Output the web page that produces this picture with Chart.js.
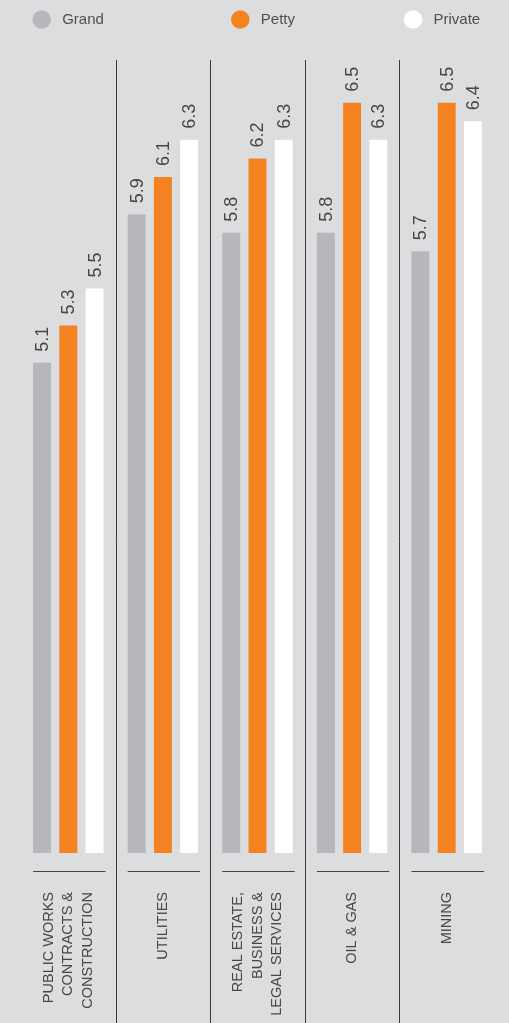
<!DOCTYPE html>
<html>
<head>
<meta charset="utf-8">
<script src="https://cdn.jsdelivr.net/npm/chart.js@4"></script>
<style>
  html, body { margin: 0; padding: 0; background: #dcdddf; }
  #wrap { width: 509px; height: 1023px; position: relative; }
</style>
</head>
<body>
<div id="wrap"><canvas id="c"></canvas></div>
<script>
const categories = [
  ["PUBLIC WORKS", "CONTRACTS &", "CONSTRUCTION"],
  ["UTILITIES"],
  ["REAL ESTATE,", "BUSINESS &", "LEGAL SERVICES"],
  ["OIL & GAS"],
  ["MINING"]
];
const seriesNames = ["Grand", "Petty", "Private"];
const grandValues = [5.1, 5.9, 5.8, 5.8, 5.7];
const pettyValues = [5.3, 6.1, 6.2, 6.5, 6.5];
const privateValues = [5.5, 6.3, 6.3, 6.3, 6.4];
const seriesColors = ["#b6b7ba", "#f58220", "#ffffff"];

const TEXT = "#474747";
const LINE = "#3a3a3a";
const FONT = "'Liberation Sans', Arial, sans-serif";

const decor = {
  id: "decor",
  afterDatasetsDraw(chart) {
    const ctx = chart.ctx;
    const xs = chart.scales.x;
    const n = categories.length;
    ctx.save();
    // separators
    ctx.strokeStyle = LINE;
    ctx.lineWidth = 1;
    for (let i = 0; i < n - 1; i++) {
      const x = Math.round((xs.getPixelForValue(i) + xs.getPixelForValue(i + 1)) / 2) + 0.5;
      ctx.beginPath();
      ctx.moveTo(x, 60);
      ctx.lineTo(x, chart.height);
      ctx.stroke();
    }
    // group base lines
    const m0 = chart.getDatasetMeta(0), m2 = chart.getDatasetMeta(2);
    ctx.strokeStyle = "#444";
    for (let i = 0; i < n; i++) {
      const b0 = m0.data[i], b2 = m2.data[i];
      const l = b0.x - b0.width / 2;
      const r = b2.x + b2.width / 2 + 2;
      ctx.beginPath();
      ctx.moveTo(l, 871.5);
      ctx.lineTo(r, 871.5);
      ctx.stroke();
    }
    // value labels
    ctx.fillStyle = TEXT;
    ctx.font = "18px " + FONT;
    ctx.textAlign = "left";
    ctx.textBaseline = "middle";
    chart.data.datasets.forEach((ds, di) => {
      const meta = chart.getDatasetMeta(di);
      meta.data.forEach((bar, i) => {
        ctx.save();
        ctx.translate(bar.x + 1, bar.y - 11);
        ctx.rotate(-Math.PI / 2);
        ctx.fillText(ds.data[i].toFixed(1), 0, 0);
        ctx.restore();
      });
    });
    // category labels
    ctx.font = "14.5px " + FONT;
    ctx.textAlign = "right";
    for (let i = 0; i < n; i++) {
      const cx = xs.getPixelForValue(i);
      const lines = categories[i];
      lines.forEach((t, k) => {
        const x = cx + (k - (lines.length - 1) / 2) * 19.5;
        ctx.save();
        ctx.translate(x, 892);
        ctx.rotate(-Math.PI / 2);
        ctx.fillText(t, 0, 0);
        ctx.restore();
      });
    }
    // legend
    const legendX = [41.7, 240.3, 413];
    ctx.font = "15px " + FONT;
    ctx.textAlign = "left";
    ctx.textBaseline = "middle";
    seriesNames.forEach((name, k) => {
      ctx.fillStyle = seriesColors[k];
      ctx.beginPath();
      ctx.arc(legendX[k], 19.5, 9.3, 0, Math.PI * 2);
      ctx.fill();
      ctx.fillStyle = "#505050";
      ctx.fillText(name, legendX[k] + 20.5, 20);
    });
    ctx.restore();
  }
};

new Chart(document.getElementById("c"), {
  type: "bar",
  data: {
    labels: categories,
    datasets: [
      { label: seriesNames[0], data: grandValues, backgroundColor: seriesColors[0] },
      { label: seriesNames[1], data: pettyValues, backgroundColor: seriesColors[1] },
      { label: seriesNames[2], data: privateValues, backgroundColor: seriesColors[2] }
    ]
  },
  options: {
    responsive: true,
    maintainAspectRatio: false,
    animation: false,
    layout: { padding: { top: 60, bottom: 170, left: 21, right: 15 } },
    datasets: { bar: { categoryPercentage: 0.832, barPercentage: 0.684 } },
    plugins: { legend: { display: false }, tooltip: { enabled: false } },
    scales: {
      x: { display: false },
      y: { display: false, min: 2.46, max: 6.73 }
    }
  },
  plugins: [decor]
});
</script>
</body>
</html>
